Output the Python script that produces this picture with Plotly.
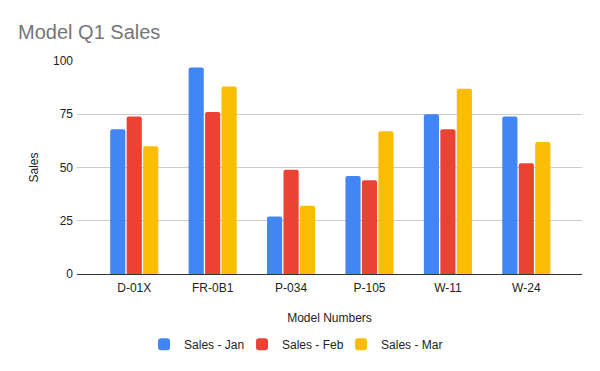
import plotly.graph_objects as go

models = ["D-01X", "FR-0B1", "P-034", "P-105", "W-11", "W-24"]
sales_jan = [68, 97, 27, 46, 75, 74]
sales_feb = [74, 76, 49, 44, 68, 52]
sales_mar = [60, 88, 32, 67, 87, 62]
series_names = ["Sales - Jan", "Sales - Feb", "Sales - Mar"]
colors = ["#4285f4", "#ea4335", "#fbbc04"]
y_ticks = [0, 25, 50, 75, 100]

legend_ids = ["legend", "legend2", "legend3"]
legend_x = [0.2298, 0.3953, 0.5626]

fig = go.Figure()
for name, vals, c, lg in zip(series_names, [sales_jan, sales_feb, sales_mar], colors, legend_ids):
    fig.add_trace(go.Bar(x=models, y=vals, name=name, legend=lg,
                         marker=dict(color=c, line=dict(width=0))))

font = "Arial, 'Liberation Sans', sans-serif"
legend_common = dict(orientation="h", xref="container", yref="container", xanchor="left",
                     y=0.074, yanchor="middle", font=dict(size=12, color="#222222"),
                     itemwidth=30, bgcolor="rgba(0,0,0,0)")
# page body has an 8px margin, so the figure is sized to fill the rest of the window
fig.update_layout(
    width=592, height=363,
    margin=dict(l=69, r=18, t=53, b=97, autoexpand=False),
    paper_bgcolor="white", plot_bgcolor="white",
    barmode="group", bargap=0.37, bargroupgap=0.08,
    barcornerradius=2,
    font=dict(family=font, size=12, color="#222222"),
    title=dict(text="Model Q1 Sales", x=0.017, xanchor="left", y=0.934, yanchor="middle",
               font=dict(family=font, size=20, color="#757575")),
    showlegend=True,
    legend=dict(x=legend_x[0], **legend_common),
    legend2=dict(x=legend_x[1], **legend_common),
    legend3=dict(x=legend_x[2], **legend_common),
    xaxis=dict(type="category", range=[-0.73, 5.71], showgrid=False,
               showline=True, linecolor="#333333", linewidth=1,
               ticks="", ticklabelstandoff=3, tickfont=dict(size=12, color="#222222"),
               title=dict(text="Model Numbers", standoff=19, font=dict(size=12, color="#222222"))),
    yaxis=dict(range=[0, 100], tickvals=y_ticks, showgrid=True, gridcolor="#cccccc",
               zeroline=False, showline=False, ticks="", ticklabelstandoff=3,
               tickfont=dict(size=12, color="#222222"),
               title=dict(text="Sales", standoff=11, font=dict(size=12, color="#222222"))),
)
fig.write_html("out.html")
